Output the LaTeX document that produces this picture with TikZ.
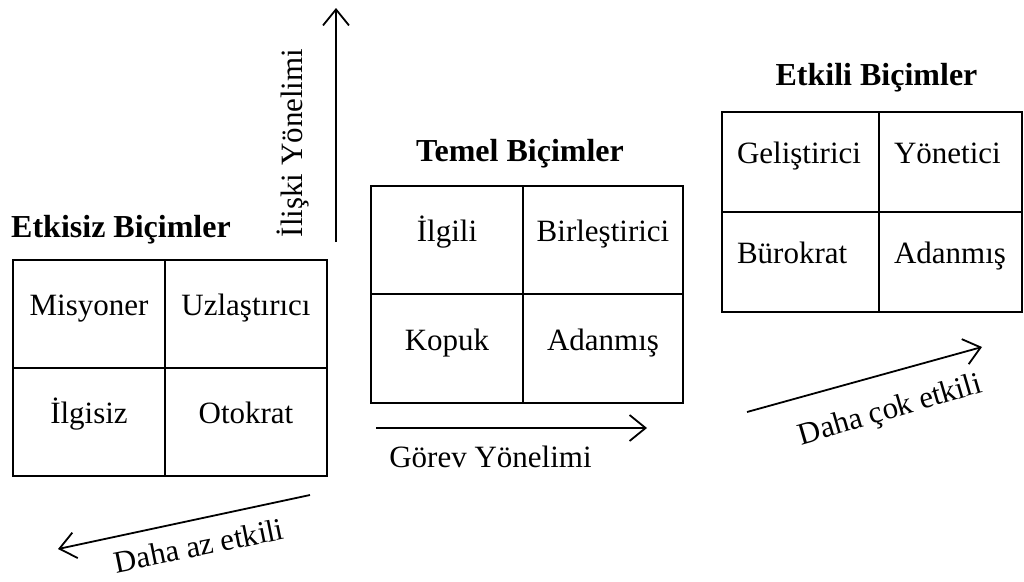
\documentclass[tikz,border=0pt]{standalone}
\usepackage{fontspec}
\setmainfont{Liberation Serif}
\usetikzlibrary{arrows.meta}

\begin{document}
\begin{tikzpicture}[x=1pt,y=-1pt]
  \tikzset{cell/.style = {shape=rectangle,draw,line width=1.8pt,text height=21pt,text depth=18pt,inner sep=0pt,font=\fontsize{31}{36}\selectfont}}
    \tikzset{lcell/.style = {cell,align=left,inner xsep=15pt}}
  \tikzset{title/.style = {anchor=base,inner sep=0pt,font=\fontsize{32}{38}\selectfont\bfseries}}
  \tikzset{lbl/.style = {anchor=base,inner sep=0pt,font=\fontsize{31}{36}\selectfont}}
  \tikzset{edge/.style = {-{Straight Barb[length=16pt,width=26pt]},line width=1.8pt}}

  \useasboundingbox (0,0) rectangle (1024,581);

	\node[title] (ET) at (121,237) {Etkisiz Biçimler};
	\node[cell,minimum width=152pt,minimum height=108pt] (MI) at (89,314) {Misyoner};
	\node[cell,minimum width=162pt,minimum height=108pt] (UZ) at (246,314) {Uzlaştırıcı};
	\node[cell,minimum width=152pt,minimum height=108pt] (IS) at (89,422) {İlgisiz};
	\node[cell,minimum width=162pt,minimum height=108pt] (OT) at (246,422) {Otokrat};

	\node[title] (TT) at (520,161) {Temel Biçimler};
	\node[cell,minimum width=152pt,minimum height=108pt] (IL) at (447,240) {İlgili};
	\node[cell,minimum width=160pt,minimum height=108pt] (BI) at (603,240) {Birleştirici};
	\node[cell,minimum width=152pt,minimum height=109pt] (KO) at (447,348.5) {Kopuk};
	\node[cell,minimum width=160pt,minimum height=109pt] (AD) at (603,348.5) {Adanmış};

	\node[title] (EK) at (876.5,85) {Etkili Biçimler};
	\node[lcell,text width=127pt,minimum height=100pt] (GE) at (800.5,162) {Geliştirici};
	\node[lcell,text width=113pt,minimum height=100pt] (YO) at (950.5,162) {Yönetici};
	\node[lcell,text width=127pt,minimum height=100pt] (BU) at (800.5,262) {Bürokrat};
	\node[lcell,text width=113pt,minimum height=100pt] (AE) at (950.5,262) {Adanmış};

	\coordinate (IS1) at (336,242);
	\coordinate (IS2) at (336,8);
	\coordinate (GO1) at (376,428);
	\coordinate (GO2) at (647,428);
	\coordinate (AZ1) at (310,495);
	\coordinate (AZ2) at (58,549);
	\coordinate (CO1) at (747,412);
	\coordinate (CO2) at (982,347);

	\node[lbl,rotate=90] (ILY) at (302,143) {İlişki Yönelimi};
	\node[lbl] (GOY) at (490.5,467) {Görev Yönelimi};
	\node[lbl,rotate=11.5] (AZE) at (201,556) {Daha az etkili};
	\node[lbl,rotate=16.3] (COE) at (892.5,418.5) {Daha çok etkili};

    \foreach \from/\to in {IS1/IS2,GO1/GO2,AZ1/AZ2,CO1/CO2}
    \draw[edge] (\from) -- (\to);

\end{tikzpicture}
\end{document}
